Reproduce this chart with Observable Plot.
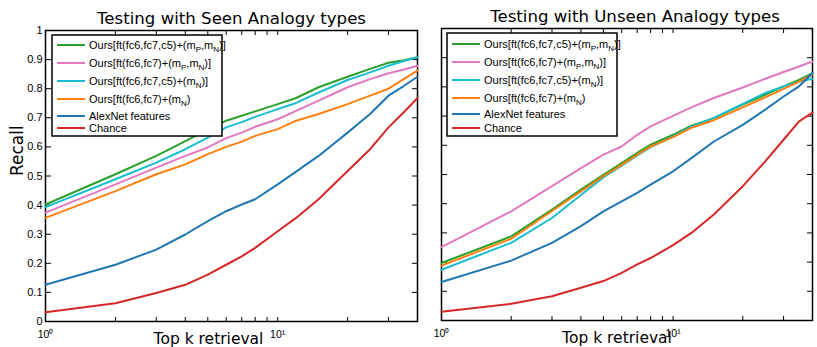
<!DOCTYPE html>
<html><head><meta charset="utf-8">
<script src="https://cdn.jsdelivr.net/npm/d3@7"></script>
<script src="https://cdn.jsdelivr.net/npm/@observablehq/plot@0.6"></script>
<style>
body{margin:0;background:#fff}
#chart{position:relative;width:817px;height:347px;overflow:hidden;background:#fff}
#chart svg{position:absolute;top:0}
</style>
</head><body><div id="chart"></div>
<script>
// ---- data ----
const kValues = [1,2,3,4,5,6,7,8,10,12,15,20,25,30,35,40];
const seriesNames = ["ftAll_PN","ft67_PN","ftAll_N","ft67_N","AlexNet features","Chance"];
const seriesColors = ["#2ca02c","#e377c2","#17becf","#ff7f0e","#1f77b4","#d62728"];
const xTicks = [1,2,3,4,5,6,7,8,9,10,20,30,40];
const xLabelTicks = [1,10];
const yTicks = [0,0.1,0.2,0.3,0.4,0.5,0.6,0.7,0.8,0.9,1];
const panelTitles = ["Testing with Seen Analogy types","Testing with Unseen Analogy types"];

// Seen analogy types (left)
const seen_ftAll_PN = [0.402,0.506,0.569,0.62,0.659,0.69,0.707,0.722,0.747,0.768,0.805,0.841,0.868,0.889,0.898,0.908];
const seen_ft67_PN  = [0.374,0.471,0.529,0.569,0.598,0.63,0.649,0.669,0.695,0.724,0.759,0.805,0.833,0.853,0.866,0.879];
const seen_ftAll_N  = [0.393,0.489,0.546,0.592,0.632,0.667,0.685,0.703,0.73,0.751,0.787,0.83,0.856,0.879,0.895,0.908];
const seen_ft67_N   = [0.356,0.448,0.506,0.54,0.575,0.6,0.618,0.638,0.661,0.69,0.713,0.747,0.776,0.8,0.834,0.862];
const seen_alexnet  = [0.126,0.195,0.247,0.299,0.345,0.379,0.402,0.42,0.471,0.515,0.569,0.649,0.713,0.776,0.81,0.841];
const seen_chance   = [0.032,0.063,0.098,0.126,0.161,0.195,0.224,0.253,0.31,0.356,0.42,0.517,0.592,0.667,0.72,0.768];

// Unseen analogy types (right)
const unseen_ftAll_PN = [0.197,0.288,0.38,0.448,0.499,0.539,0.574,0.602,0.636,0.667,0.693,0.739,0.773,0.802,0.824,0.847];
const unseen_ft67_PN  = [0.251,0.374,0.46,0.522,0.568,0.596,0.636,0.665,0.701,0.73,0.762,0.798,0.828,0.851,0.87,0.887];
const unseen_ftAll_N  = [0.174,0.266,0.351,0.43,0.49,0.53,0.565,0.594,0.63,0.664,0.694,0.742,0.779,0.802,0.818,0.828];
const unseen_ft67_N   = [0.188,0.28,0.375,0.442,0.494,0.533,0.568,0.596,0.628,0.66,0.686,0.73,0.764,0.793,0.818,0.842];
const unseen_alexnet  = [0.132,0.205,0.266,0.323,0.374,0.408,0.437,0.465,0.511,0.556,0.613,0.67,0.722,0.767,0.802,0.847];
const unseen_chance   = [0.03,0.057,0.083,0.112,0.135,0.163,0.192,0.214,0.258,0.3,0.363,0.46,0.545,0.619,0.682,0.712];

const seenSeries = [seen_ftAll_PN, seen_ft67_PN, seen_ftAll_N, seen_ft67_N, seen_alexnet, seen_chance];
const unseenSeries = [unseen_ftAll_PN, unseen_ft67_PN, unseen_ftAll_N, unseen_ft67_N, unseen_alexnet, unseen_chance];

// legend labels: [text, isSubscript] parts
const legendLabels = [
  [["Ours[ft(fc6,fc7,c5)+(m",0],["P",1],[",m",0],["N",1],[")]",0]],
  [["Ours[ft(fc6,fc7)+(m",0],["P",1],[",m",0],["N",1],[")]",0]],
  [["Ours[ft(fc6,fc7,c5)+(m",0],["N",1],[")]",0]],
  [["Ours[ft(fc6,fc7)+(m",0],["N",1],[")",0]],
  [["AlexNet features",0]],
  [["Chance",0]]
];

function toRows(list) {
  const rows = [];
  list.forEach((vals, i) => vals.forEach((v, j) => rows.push({k: kValues[j], recall: v, series: seriesNames[i]})));
  return rows;
}

const tickFont = "Liberation Sans, Arial, sans-serif";
const labelFont = "DejaVu Sans, sans-serif";

function panel(o) {
  const marks = [
    Plot.frame({stroke: "black", strokeWidth: 1.5}),
    // inward ticks on all four sides
    Plot.axisX({anchor: "top", frameAnchor: "bottom", ticks: xTicks, tickSize: 5, tickFormat: () => "", label: null, strokeWidth: 1}),
    Plot.axisX({anchor: "bottom", frameAnchor: "top", ticks: xTicks, tickSize: 5, tickFormat: () => "", label: null, strokeWidth: 1}),
    Plot.axisY({anchor: "right", frameAnchor: "left", ticks: yTicks, tickSize: 5, tickFormat: () => "", label: null}),
    Plot.axisY({anchor: "left", frameAnchor: "right", ticks: yTicks, tickSize: 5, tickFormat: () => "", label: null}),
    // x tick labels
    Plot.axisX({anchor: "bottom", ticks: xLabelTicks, tickSize: 0, tickPadding: 9, label: null,
      tickFormat: d => d === 1 ? "10\u2070" : "10\u00b9", fontSize: 10.5, fontFamily: tickFont}),
    Plot.line(toRows(o.series), {x: "k", y: "recall", stroke: "series", strokeWidth: 2, curve: "linear"}),
    Plot.text([o.title], {frameAnchor: "top", dy: -7, dx: o.titleDx, lineAnchor: "bottom", fontSize: 16.6, fontFamily: labelFont, fill: "black"}),
    Plot.text(["Top k retrieval"], {frameAnchor: "bottom", dy: 22, dx: o.xLabelDx, lineAnchor: "bottom", fontSize: 15.5, fontFamily: labelFont, fill: "black"})
  ];
  if (o.showY) {
    marks.push(Plot.axisY({anchor: "left", ticks: yTicks, tickSize: 0, tickPadding: 3, label: null,
      tickFormat: d => String(+d.toFixed(1)), fontSize: 11, fontFamily: tickFont}));
    marks.push(Plot.text(["Recall"], {frameAnchor: "left", dx: -28, rotate: -90, fontSize: 17, fontFamily: labelFont, fill: "black"}));
  }
  const svg = Plot.plot({
    width: o.width, height: 347,
    marginLeft: o.ml, marginRight: o.mr, marginTop: o.mt, marginBottom: o.mb,
    style: {background: "transparent", overflow: "visible", color: "black"},
    x: {type: "log", domain: [1, 40]},
    y: {domain: [0, 1]},
    color: {domain: seriesNames, range: seriesColors},
    marks
  });
  // legend box
  const g = d3.select(svg).append("g").attr("font-family", tickFont).attr("font-size", 11).attr("text-anchor", "start");
  const bx = o.ml + o.legend.dx, by = o.legend.y0;
  g.append("rect").attr("x", bx).attr("y", by).attr("width", 170).attr("height", o.legend.h)
    .attr("fill", "white").attr("stroke", "black").attr("stroke-width", 1.5);
  o.legend.ys.forEach((ly, i) => {
    g.append("line").attr("x1", bx + 5).attr("x2", bx + 33).attr("y1", ly).attr("y2", ly)
      .attr("stroke", seriesColors[i]).attr("stroke-width", 2);
    const t = g.append("text").attr("x", bx + 37).attr("y", ly + 4).attr("fill", "black").attr("text-anchor", "start");
    let prevSub = false;
    legendLabels[i].forEach(([s, sub]) => {
      const ts = t.append("tspan").text(s);
      if (sub) ts.attr("font-size", 8).attr("dy", 3);
      else if (prevSub) ts.attr("dy", -3);
      prevSub = !!sub;
    });
  });
  svg.style.left = o.left + "px";
  return svg;
}

const chart = document.getElementById("chart");
chart.appendChild(panel({
  series: seenSeries, title: panelTitles[0], titleDx: 0, xLabelDx: -23, showY: true,
  left: 0, width: 420, ml: 45, mr: 3, mt: 30, mb: 26,
  legend: {dx: 7, y0: 35, h: 101, ys: [45, 63, 81, 99, 116, 128]}
}));
chart.appendChild(panel({
  series: unseenSeries, title: panelTitles[1], titleDx: 8, xLabelDx: -10, showY: false,
  left: 420, width: 397, ml: 21, mr: 5, mt: 28, mb: 27,
  legend: {dx: 6, y0: 33, h: 103, ys: [44, 62, 80, 98, 114, 128]}
}));
</script>
</body></html>
